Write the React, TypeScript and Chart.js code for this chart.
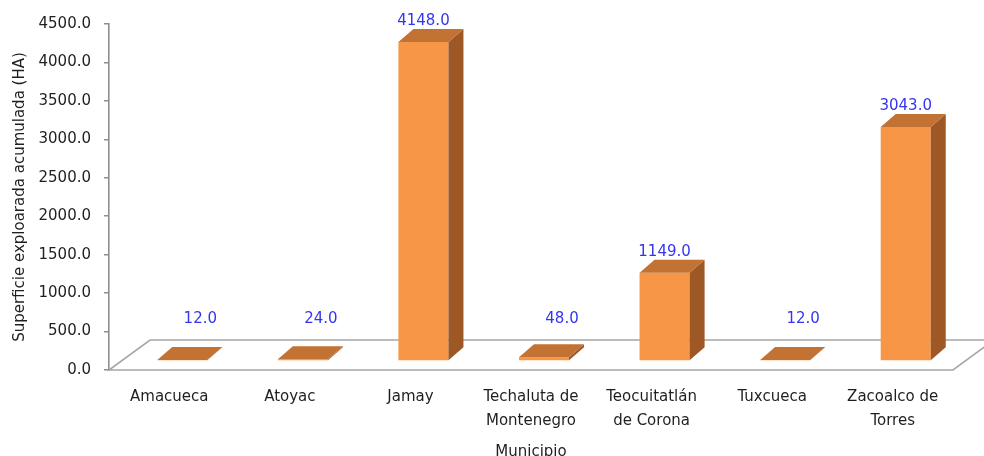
import React, { useEffect, useRef } from "react";
import { Chart, registerables } from "chart.js";

Chart.register(...registerables);

const categories: (string | string[])[] = [
  "Amacueca",
  "Atoyac",
  "Jamay",
  ["Techaluta de", "Montenegro"],
  ["Teocuitatlán", "de Corona"],
  "Tuxcueca",
  ["Zacoalco de", "Torres"],
];
const superficie: number[] = [12, 24, 4148, 48, 1149, 12, 3043];
const yTickMax = 4500;
const yTickStep = 500;
const yTitle = "Superficie exploarada acumulada (HA)";
const xTitle = "Municipio";

const FONT = "'DejaVu Sans', sans-serif";
const FRONT = "#F79646";
const TOP = "#C27233";
const SIDE = "#9E5826";
const AXIS = "#8f8f8f";
const TEXT = "#1f1f1f";

// 3D geometry (pixels)
const BAR_SHIFT = { x: 13, y: -9 };
const BAR_DEPTH = { x: 15, y: -13 };
const FLOOR_DEPTH = { x: 41, y: -30 };

const threeD = {
  id: "threeD",
  beforeDatasetsDraw(chart: any) {
    const { ctx, chartArea } = chart;
    const { left, right, bottom } = chartArea;
    ctx.save();
    ctx.beginPath();
    ctx.moveTo(left, bottom);
    ctx.lineTo(right, bottom);
    ctx.lineTo(right + FLOOR_DEPTH.x, bottom + FLOOR_DEPTH.y);
    ctx.lineTo(left + FLOOR_DEPTH.x, bottom + FLOOR_DEPTH.y);
    ctx.closePath();
    ctx.fillStyle = "#ffffff";
    ctx.fill();
    ctx.strokeStyle = "#a6a6a6";
    ctx.lineWidth = 1.6;
    ctx.stroke();
    ctx.restore();
    ctx.save();
    ctx.translate(BAR_SHIFT.x, BAR_SHIFT.y);
  },
  afterDatasetsDraw(chart: any) {
    const { ctx } = chart;
    const meta = chart.getDatasetMeta(0);
    meta.data.forEach((bar: any) => {
      const { x, y, base, width } = bar.getProps(["x", "y", "base", "width"], true);
      const l = x - width / 2;
      const r = x + width / 2;
      const dx = BAR_DEPTH.x;
      const dy = BAR_DEPTH.y;
      // side face
      ctx.beginPath();
      ctx.moveTo(r, y);
      ctx.lineTo(r + dx, y + dy);
      ctx.lineTo(r + dx, base + dy);
      ctx.lineTo(r, base);
      ctx.closePath();
      ctx.fillStyle = SIDE;
      ctx.fill();
      // top face
      ctx.beginPath();
      ctx.moveTo(l, y);
      ctx.lineTo(r, y);
      ctx.lineTo(r + dx, y + dy);
      ctx.lineTo(l + dx, y + dy);
      ctx.closePath();
      ctx.fillStyle = TOP;
      ctx.fill();
    });
    ctx.restore();

    // data labels
    ctx.save();
    ctx.font = `15px ${FONT}`;
    ctx.fillStyle = "#3535f0";
    ctx.textAlign = "center";
    ctx.textBaseline = "middle";
    const ds = chart.data.datasets[0];
    meta.data.forEach((bar: any, i: number) => {
      const { x, y, base } = bar.getProps(["x", "y", "base"], true);
      const topBack = y + BAR_SHIFT.y + BAR_DEPTH.y;
      const limit = base + BAR_SHIFT.y - 41;
      let ly = topBack - 8;
      let lx = x + BAR_SHIFT.x;
      if (ly > limit) {
        ly = limit;
        lx += 18;
      }
      ctx.fillText(Number(ds.data[i]).toFixed(1), lx, ly);
    });
    ctx.restore();
  },
};

export default function App() {
  const ref = useRef<HTMLCanvasElement | null>(null);
  useEffect(() => {
    if (!ref.current) return;
    const chart = new Chart(ref.current, {
      type: "bar",
      data: {
        labels: categories,
        datasets: [
          {
            data: superficie,
            backgroundColor: FRONT,
            borderWidth: 0,
            categoryPercentage: 1,
            barPercentage: 0.415,
            clip: false as any,
          },
        ],
      },
      options: {
        responsive: false,
        animation: false,
        layout: { padding: { left: 0, right: 31, top: 24, bottom: 0 } },
        plugins: {
          legend: { display: false },
          tooltip: { enabled: false },
        },
        scales: {
          x: {
            grid: { display: false, drawTicks: false },
            border: { display: false },
            ticks: {
              color: TEXT,
              font: { family: FONT, size: 15, lineHeight: 1.6 },
              padding: 15,
              maxRotation: 0,
              autoSkip: false,
            },
            title: {
              display: true,
              text: xTitle,
              color: TEXT,
              font: { family: FONT, size: 15, lineHeight: 1.2 },
              padding: { top: 0, bottom: -5 },
            },
            afterFit: (s: any) => {
              s.height = 86;
            },
          },
          y: {
            min: 0,
            max: yTickMax,
            grid: { drawOnChartArea: false, drawTicks: true, tickLength: 5, color: AXIS, lineWidth: 1.5 },
            border: { color: AXIS, width: 1.6 },
            ticks: {
              stepSize: yTickStep,
              color: TEXT,
              font: { family: FONT, size: 15 },
              padding: 13,
              callback: (v: any) => Number(v).toFixed(1),
            },
            title: {
              display: true,
              text: yTitle,
              color: TEXT,
              font: { family: FONT, size: 15, lineHeight: 1.2 },
              padding: { top: 11, bottom: 0 },
            },
            afterFit: (s: any) => {
              s.width = 109;
            },
          },
        },
      },
      plugins: [threeD],
    });
    return () => chart.destroy();
  }, []);
  return (
    <div style={{ position: "fixed", left: 0, top: 0, width: 984, height: 456, background: "#fff" }}>
      <canvas ref={ref} width={984} height={456} />
    </div>
  );
}
